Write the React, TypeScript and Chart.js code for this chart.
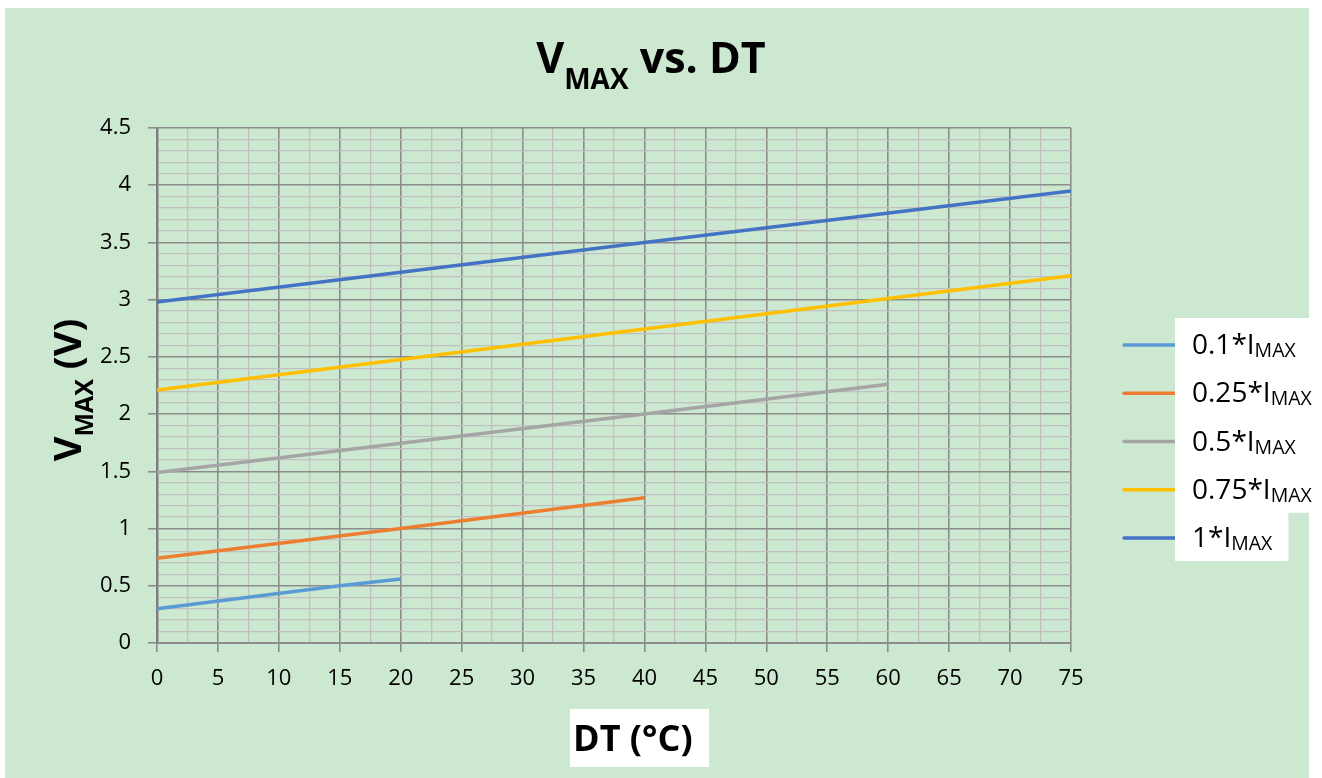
import React, { useEffect, useRef } from 'react';
import { Chart, registerables } from 'chart.js';

Chart.register(...registerables);

// ---- data ----
const seriesNames = ['0.1*I', '0.25*I', '0.5*I', '0.75*I', '1*I'];
const seriesSub = 'MAX';
const seriesColors = ['#5B9BD5', '#ED7D31', '#A5A5A5', '#FFC000', '#4472C4'];

const dt01 = [0, 15, 20];
const v01 = [0.30, 0.50, 0.56];
const dt025 = [0, 20, 40];
const v025 = [0.74, 1.0, 1.27];
const dt05 = [0, 40, 60];
const v05 = [1.49, 2.0, 2.26];
const dt075 = [0, 60, 75];
const v075 = [2.21, 3.01, 3.21];
const dt1 = [0, 40, 75];
const v1 = [2.98, 3.50, 3.95];

const seriesX = [dt01, dt025, dt05, dt075, dt1];
const seriesY = [v01, v025, v05, v075, v1];

const xMin = 0;
const xMax = 75;
const xMinorStep = 2.5;
const xMajorStep = 5;
const yMin = 0;
const yMax = 4.5;
const yMinorStep = 0.1;
const yMajorStep = 0.5;

const titleMain = 'V';
const titleSub = 'MAX';
const titleRest = ' vs. DT';
const yTitleMain = 'V';
const yTitleSub = 'MAX';
const yTitleRest = ' (V)';
const xTitle = 'DT (°C)';

// ---- style ----
const FONT = '"Open Sans", sans-serif';
const BG = '#CDE8D0';
const MAJOR = '#8C8C8C';
const MINOR = '#C0C0C0';

const isMult = (v: number, step: number) => Math.abs(v / step - Math.round(v / step)) < 1e-6;

function buildTicks(min: number, max: number, step: number) {
  const out: number[] = [];
  const n = Math.round((max - min) / step);
  for (let i = 0; i <= n; i++) out.push(Math.round((min + i * step) * 1000) / 1000);
  return out;
}

type Part = { t: string; f: string; dy: number };

function drawParts(ctx: CanvasRenderingContext2D, parts: Part[], x: number, y: number, align: 'left' | 'center') {
  const widths = parts.map((p) => {
    ctx.font = p.f;
    return ctx.measureText(p.t).width;
  });
  const total = widths.reduce((a, b) => a + b, 0);
  let cx = align === 'center' ? x - total / 2 : x;
  ctx.textAlign = 'left';
  ctx.textBaseline = 'alphabetic';
  parts.forEach((p, i) => {
    ctx.font = p.f;
    ctx.fillText(p.t, cx, y + p.dy);
    cx += widths[i];
  });
  return total;
}

const decorPlugin = {
  id: 'decor',
  beforeDraw(chart: any) {
    const ctx = chart.ctx as CanvasRenderingContext2D;
    ctx.save();
    ctx.fillStyle = BG;
    ctx.fillRect(0, 0, 1304, chart.height);
    ctx.restore();
  },
  afterDraw(chart: any) {
    const ctx = chart.ctx as CanvasRenderingContext2D;
    ctx.save();
    ctx.fillStyle = '#000';
    // title
    drawParts(
      ctx,
      [
        { t: titleMain, f: `bold 43px ${FONT}`, dy: 0 },
        { t: titleSub, f: `bold 28px ${FONT}`, dy: 16 },
        { t: titleRest, f: `bold 43px ${FONT}`, dy: 0 },
      ],
      646,
      65,
      'center'
    );
    // y title
    ctx.save();
    ctx.translate(76, 382);
    ctx.rotate(-Math.PI / 2);
    drawParts(
      ctx,
      [
        { t: yTitleMain, f: `bold 38px ${FONT}`, dy: 0 },
        { t: yTitleSub, f: `bold 25px ${FONT}`, dy: 12 },
        { t: yTitleRest, f: `bold 38px ${FONT}`, dy: 0 },
      ],
      0,
      0,
      'center'
    );
    ctx.restore();
    // x title with white box
    ctx.fillStyle = '#FFFFFF';
    ctx.fillRect(565, 701, 139, 58);
    ctx.fillStyle = '#000';
    ctx.font = `bold 36px ${FONT}`;
    ctx.textAlign = 'left';
    ctx.textBaseline = 'alphabetic';
    ctx.fillText(xTitle, 568, 743);
    // legend
    chart.data.datasets.forEach((ds: any, i: number) => {
      const cy = 337 + i * 48.25;
      ctx.strokeStyle = ds.borderColor;
      ctx.lineWidth = 3.5;
      ctx.lineCap = 'round';
      ctx.beginPath();
      ctx.moveTo(1119, cy);
      ctx.lineTo(1174, cy);
      ctx.stroke();
      ctx.font = `28px ${FONT}`;
      const w1 = ctx.measureText(seriesNames[i]).width;
      ctx.font = `19.5px ${FONT}`;
      const w2 = ctx.measureText(seriesSub).width;
      ctx.fillStyle = '#FFFFFF';
      ctx.fillRect(1170, cy - 27, 17 + w1 + w2 + 16, 50);
      ctx.fillStyle = '#000';
      drawParts(
        ctx,
        [
          { t: seriesNames[i], f: `28px ${FONT}`, dy: 0 },
          { t: seriesSub, f: `19.5px ${FONT}`, dy: 3 },
        ],
        1187,
        cy + 9,
        'left'
      );
    });
    ctx.restore();
  },
};

export default function App() {
  const ref = useRef<HTMLCanvasElement | null>(null);

  useEffect(() => {
    let chart: Chart | null = null;
    let cancelled = false;
    const create = () => {
      if (cancelled || !ref.current) return;
      const xTicks = buildTicks(xMin, xMax, xMinorStep);
      const yTicks = buildTicks(yMin, yMax, yMinorStep);
      const gridOpts = (step: number) => ({
        color: (c: any) => (isMult(c.tick?.value ?? 0, step) ? MAJOR : MINOR),
        lineWidth: (c: any) => (isMult(c.tick?.value ?? 0, step) ? 1.6 : 1.3),
        tickColor: (c: any) => (isMult(c.tick?.value ?? 0, step) ? MAJOR : 'rgba(0,0,0,0)'),
        tickWidth: 1.6,
        tickLength: 9,
        drawTicks: true,
      });
      chart = new Chart(ref.current, {
        type: 'scatter',
        data: {
          datasets: seriesNames.map((name, i) => ({
            label: name + seriesSub,
            data: seriesX[i].map((x, j) => ({ x, y: seriesY[i][j] })),
            showLine: true,
            borderColor: seriesColors[i],
            backgroundColor: seriesColors[i],
            borderWidth: 3.5,
            pointRadius: 0,
            pointHoverRadius: 0,
            tension: 0,
            fill: false,
          })),
        },
        options: {
          animation: false,
          responsive: false,
          devicePixelRatio: 1,
          layout: { padding: { top: 120, right: 251, left: 0, bottom: 0 } },
          plugins: {
            legend: { display: false },
            title: { display: false },
            tooltip: { enabled: false },
          },
          scales: {
            x: {
              type: 'linear',
              min: xMin,
              max: xMax,
              afterBuildTicks: (s: any) => {
                s.ticks = xTicks.map((v) => ({ value: v }));
              },
              afterFit: (s: any) => {
                s.height = 135;
              },
              ticks: {
                autoSkip: false,
                maxRotation: 0,
                minRotation: 0,
                padding: 14,
                color: '#000',
                font: { family: FONT, size: 22 },
                callback: (v: any) => (isMult(Number(v), xMajorStep) ? String(Math.round(Number(v))) : ''),
              },
              grid: gridOpts(xMajorStep) as any,
              border: { display: true, color: MAJOR, width: 2 },
            },
            y: {
              type: 'linear',
              min: yMin,
              max: yMax,
              afterBuildTicks: (s: any) => {
                s.ticks = yTicks.map((v) => ({ value: v }));
              },
              afterFit: (s: any) => {
                s.width = 152;
              },
              ticks: {
                autoSkip: false,
                padding: 17,
                color: '#000',
                font: { family: FONT, size: 22 },
                callback: (v: any) => (isMult(Number(v), yMajorStep) ? String(Math.round(Number(v) * 10) / 10) : ''),
              },
              grid: gridOpts(yMajorStep) as any,
              border: { display: true, color: '#7F7F7F', width: 2.5 },
            },
          },
        },
        plugins: [decorPlugin],
      });
    };
    const fontsApi = (document as any).fonts;
    if (fontsApi && fontsApi.load) {
      Promise.all([
        fontsApi.load(`22px ${FONT}`),
        fontsApi.load(`bold 43px ${FONT}`),
      ])
        .catch(() => null)
        .then(create);
    } else {
      create();
    }
    return () => {
      cancelled = true;
      if (chart) chart.destroy();
    };
  }, []);

  return (
    <div style={{ position: 'absolute', left: 5, top: 8, width: 1317, height: 770, overflow: 'hidden' }}>
      <canvas ref={ref} width={1317} height={770} style={{ width: 1317, height: 770, display: 'block' }} />
    </div>
  );
}
